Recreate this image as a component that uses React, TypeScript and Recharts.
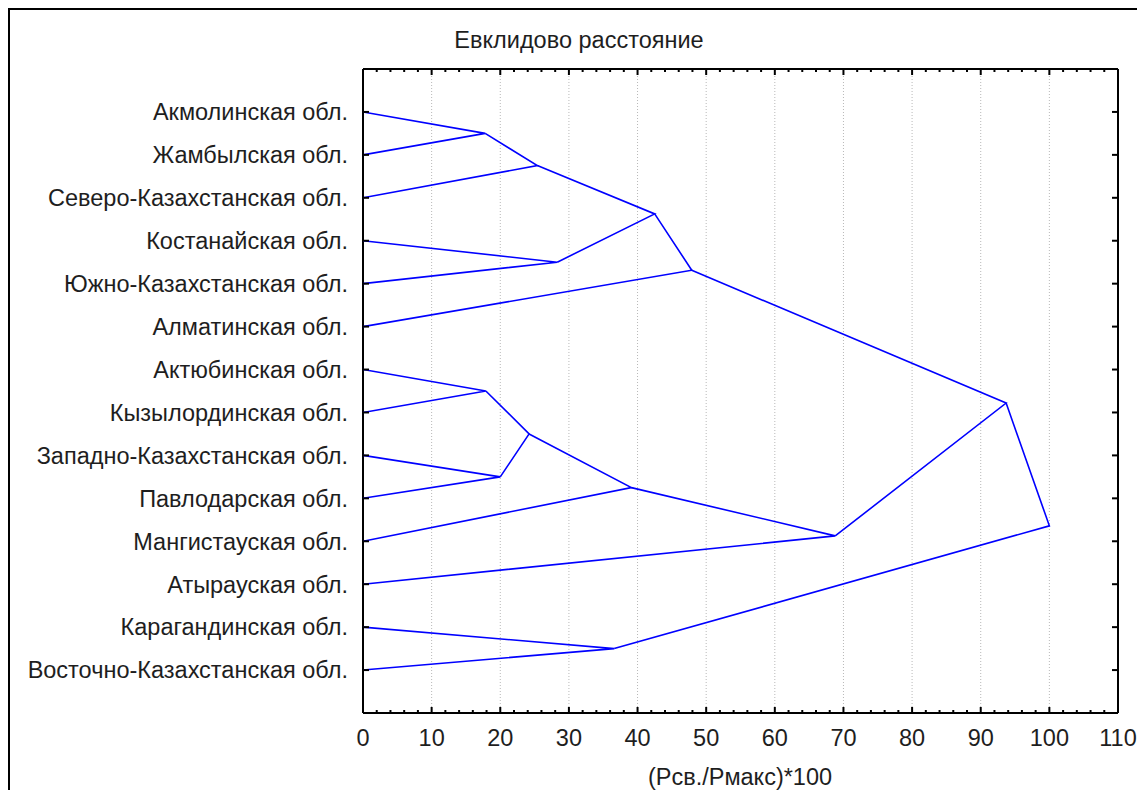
import React from 'react';
import { ScatterChart, Scatter, XAxis, YAxis, ReferenceLine } from 'recharts';

const regions = [
  'Акмолинская обл.',
  'Жамбылская обл.',
  'Северо-Казахстанская обл.',
  'Костанайская обл.',
  'Южно-Казахстанская обл.',
  'Алматинская обл.',
  'Актюбинская обл.',
  'Кызылординская обл.',
  'Западно-Казахстанская обл.',
  'Павлодарская обл.',
  'Мангистауская обл.',
  'Атырауская обл.',
  'Карагандинская обл.',
  'Восточно-Казахстанская обл.',
];

// Merge steps (new cluster ids start at regions.length)
const mergeLeft = [0, 14, 3, 15, 17, 6, 8, 19, 21, 22, 18, 12, 24];
const mergeRight = [1, 2, 4, 16, 5, 7, 9, 20, 10, 11, 23, 13, 25];
const mergeDistance = [17.8, 25.4, 28.3, 42.5, 47.9, 17.9, 20.0, 24.2, 39.1, 68.8, 93.7, 36.6, 100];

const xMinorTicks = [0, 2, 4, 6, 8, 10, 12, 14, 16, 18, 20, 22, 24, 26, 28, 30, 32, 34, 36, 38, 40, 42, 44, 46, 48, 50, 52, 54, 56, 58, 60, 62, 64, 66, 68, 70, 72, 74, 76, 78, 80, 82, 84, 86, 88, 90, 92, 94, 96, 98, 100, 102, 104, 106, 108, 110];
const gridTicks = [10, 20, 30, 40, 50, 60, 70, 80, 90, 100];
const leafTicks = [1, 2, 3, 4, 5, 6, 7, 8, 9, 10, 11, 12, 13, 14];

type Pt = { x: number; y: number };
const nodes: Pt[] = regions.map((_, i) => ({ x: 0, y: i + 1 }));
const segments: Pt[][] = [];
mergeLeft.forEach((l, i) => {
  const r = mergeRight[i];
  const node = { x: mergeDistance[i], y: (nodes[l].y + nodes[r].y) / 2 };
  nodes.push(node);
  segments.push([nodes[l], node, nodes[r]]);
});

const FONT = '"Liberation Sans", Arial, sans-serif';
const FS = 23.5;
const TXT = '#1e1e1e';

const isMajor = (v: number) => v % 10 === 0;

const BottomTick = (props: any) => {
  const { x, y, payload } = props;
  const v = payload.value;
  const len = isMajor(v) ? 6 : 3;
  return (
    <g>
      <line x1={x} x2={x} y1={y} y2={y - len} stroke="#000" strokeWidth={2} />
      {isMajor(v) && (
        <text x={x} y={y + 25} dy="0.355em" textAnchor="middle" fontFamily={FONT} fontSize={FS} fill={TXT}>
          {v}
        </text>
      )}
    </g>
  );
};

const TopTick = (props: any) => {
  const { x, y, payload } = props;
  const len = isMajor(payload.value) ? 6 : 3;
  return <line x1={x} x2={x} y1={y} y2={y + len} stroke="#000" strokeWidth={2} />;
};

const LeftTick = (props: any) => {
  const { x, y, payload } = props;
  return (
    <g>
      <line x1={x} x2={x + 6} y1={y} y2={y} stroke="#000" strokeWidth={2} />
      <text x={x - 15} y={y} dy="0.355em" textAnchor="end" fontFamily={FONT} fontSize={FS} fill={TXT}>
        {regions[payload.value - 1]}
      </text>
    </g>
  );
};

const RightTick = (props: any) => {
  const { x, y } = props;
  return <line x1={x} x2={x - 6} y1={y} y2={y} stroke="#000" strokeWidth={2} />;
};

const NoShape = () => <g />;

export default function App() {
  return (
    <div
      style={{
        position: 'relative',
        width: 1127,
        height: 780,
        borderLeft: '2px solid #000',
        borderTop: '2px solid #000',
        background: '#fff',
      }}
    >
      <div
        style={{
          position: 'absolute',
          left: 569,
          top: 31,
          transform: 'translate(-50%, -50%)',
          whiteSpace: 'nowrap',
          lineHeight: 1,
          fontFamily: FONT,
          fontSize: FS,
          color: TXT,
        }}
      >
        Евклидово расстояние
      </div>
      <div
        style={{
          position: 'absolute',
          left: 730,
          top: 768,
          transform: 'translate(-50%, -50%)',
          whiteSpace: 'nowrap',
          lineHeight: 1,
          fontFamily: FONT,
          fontSize: FS,
          color: TXT,
        }}
      >
        (Рсв./Рмакс)*100
      </div>
      <ScatterChart width={1127} height={780} margin={{ top: 58, right: 18, bottom: 37, left: 0 }}>
        <XAxis
          xAxisId="b"
          type="number"
          dataKey="x"
          domain={[0, 110]}
          ticks={xMinorTicks}
          interval={0}
          height={40}
          tickSize={0}
          tickMargin={0}
          tickLine={false}
          axisLine={{ stroke: '#000', strokeWidth: 2 }}
          tick={<BottomTick />}
          allowDataOverflow
        />
        <XAxis
          xAxisId="t"
          orientation="top"
          type="number"
          dataKey="x"
          domain={[0, 110]}
          ticks={xMinorTicks}
          interval={0}
          height={1}
          tickSize={0}
          tickMargin={0}
          tickLine={false}
          axisLine={{ stroke: '#000', strokeWidth: 2 }}
          tick={<TopTick />}
          allowDataOverflow
        />
        <YAxis
          yAxisId="l"
          type="number"
          dataKey="y"
          domain={[0, 15]}
          reversed
          ticks={leafTicks}
          interval={0}
          width={353}
          tickSize={0}
          tickMargin={0}
          tickLine={false}
          axisLine={{ stroke: '#000', strokeWidth: 2 }}
          tick={<LeftTick />}
          allowDataOverflow
        />
        <YAxis
          yAxisId="r"
          orientation="right"
          type="number"
          dataKey="y"
          domain={[0, 15]}
          reversed
          ticks={leafTicks}
          interval={0}
          width={1}
          tickSize={0}
          tickMargin={0}
          tickLine={false}
          axisLine={{ stroke: '#000', strokeWidth: 2 }}
          tick={<RightTick />}
          allowDataOverflow
        />
        {gridTicks.map((g) => (
          <ReferenceLine
            key={g}
            x={g}
            xAxisId="b"
            yAxisId="l"
            stroke="#b8b8b8"
            strokeWidth={1}
            strokeDasharray="1 2"
          />
        ))}
        {segments.map((seg, i) => (
          <Scatter
            key={i}
            xAxisId="b"
            yAxisId="l"
            data={seg}
            line={{ stroke: '#0000ff', strokeWidth: 1.6 }}
            lineType="joint"
            shape={NoShape}
            legendType="none"
            isAnimationActive={false}
          />
        ))}
        <Scatter
          xAxisId="t"
          yAxisId="r"
          data={[]}
          shape={NoShape}
          legendType="none"
          isAnimationActive={false}
        />
      </ScatterChart>
    </div>
  );
}
